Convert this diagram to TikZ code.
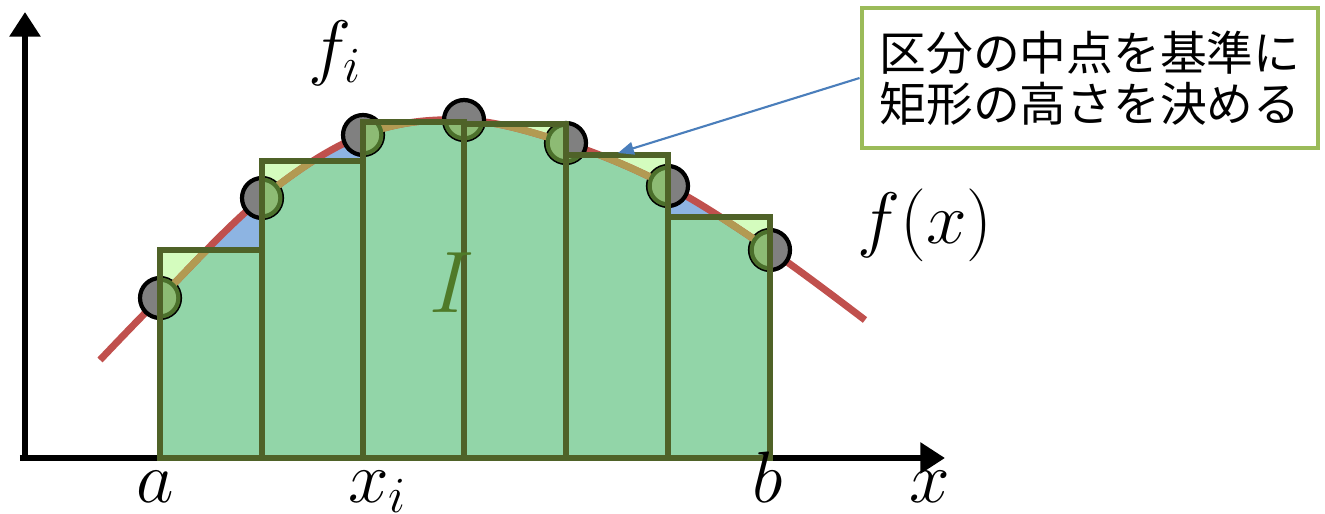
\documentclass[tikz,border=0pt]{standalone}
\usepackage{fontspec}
\newfontfamily\jpfont{Noto Sans CJK JP}
\usetikzlibrary{arrows.meta,positioning}
\definecolor{curvered}{RGB}{192,80,77}
\definecolor{gapblue}{RGB}{141,180,226}
\definecolor{overlime}{RGB}{212,252,190}
\definecolor{barfill}{RGB}{146,213,168}
\definecolor{bardark}{RGB}{79,98,40}
\definecolor{curvetan}{RGB}{178,154,82}
\definecolor{dotgreen}{RGB}{141,187,116}
\definecolor{dotedge}{RGB}{76,112,44}
\definecolor{notegreen}{RGB}{155,187,89}
\definecolor{pointblue}{RGB}{74,126,187}
\definecolor{labelgreen}{RGB}{79,122,40}

% the function and the staircase of midpoint rectangles
\newcommand\fcurve{plot[smooth,tension=.6] coordinates {(1.00,1.53) (1.60,2.15)
  (2.62,3.15) (3.63,3.78) (4.64,3.93) (5.66,3.70) (6.68,3.27) (7.70,2.63)
  (8.65,1.93)}}
\newcommand\stairs{(1.60,.55) -- (1.60,2.63) -- (2.62,2.63) -- (2.62,3.52)
  -- (3.63,3.52) -- (3.63,3.91) -- (4.64,3.91) -- (4.64,3.89) -- (5.66,3.89)
  -- (5.66,3.58) -- (6.68,3.58) -- (6.68,2.96) -- (7.70,2.96) -- (7.70,.55)
  -- cycle}

\begin{document}
\begin{tikzpicture}[x=1cm,y=1cm,
    axis/.style={line width=1.7pt,-{Triangle[length=7pt,width=8.5pt]}},
    sample/.style={circle,draw=black,fill=black!50,line width=1.2pt,
      minimum size=.40cm,inner sep=0pt},
    mathlbl/.style={font=\fontsize{21}{24}\selectfont},
    ticklbl/.style={mathlbl,anchor=base,inner sep=0pt},
    note/.style={draw=notegreen,line width=1.4pt,fill=white,align=left,
      minimum width=4.56cm,minimum height=1.40cm,inner sep=4pt,
      font=\jpfont\fontsize{13.3}{14.6}\selectfont}]
  \useasboundingbox (0,0) rectangle (13.25,5.13);

  % Axes.
  \draw[axis] (.25,.52) -- (.25,5.01);
  \draw[axis] (.20,.55) -- (9.45,.55);

  % Rectangles above the curve, gaps below it, overlap in green.
  \fill[overlime] \stairs;
  \begin{scope}
    \clip (1.60,.4) rectangle (7.70,5);
    \fill[gapblue] \fcurve -- (8.65,.55) -- (1.00,.55) -- cycle;
  \end{scope}
  \begin{scope}
    \clip \stairs;
    \fill[barfill] \fcurve -- (8.65,.55) -- (1.00,.55) -- cycle;
  \end{scope}

  % f(x) and its values at the midpoints.
  \draw[curvered,line width=2pt] \fcurve;
  \foreach \i/\px/\py in {1/1.60/2.15,2/2.62/3.15,3/3.63/3.78,4/4.64/3.93,
      5/5.66/3.70,6/6.68/3.27,7/7.70/2.63}
    \node[sample] (p\i) at (\px,\py) {};
  \begin{scope}
    \clip \stairs;
    \draw[curvetan,line width=2pt] \fcurve;
    \foreach \i in {1,...,7}
      \draw[dotedge,fill=dotgreen,line width=1.2pt] (p\i) circle (.184);
  \end{scope}

  % Rectangle outlines.
  \foreach \xl/\xr/\h in {1.60/2.62/2.63,2.62/3.63/3.52,3.63/4.64/3.91,
      4.64/5.66/3.89,5.66/6.68/3.58,6.68/7.70/2.96}
    \draw[bardark,line width=1.6pt] (\xl,.55) rectangle (\xr,\h);

  % Labels.
  \node[mathlbl] (fi) at (3.35,4.60) {$f_i$};
  \node[mathlbl] (fx) at (9.25,2.88) {$f(x)$};
  \node[font=\fontsize{27}{30}\selectfont,text=labelgreen] (area)
    at (4.52,2.30) {$I$};
  \node[ticklbl] (lo) at (1.55,.11) {$a$};
  \node[ticklbl] (xi) at (3.78,.11) {$x_i$};
  \node[ticklbl] (hi) at (7.68,.11) {$b$};
  \node[ticklbl] (xlbl) at (9.30,.11) {$x$};

  % Callout.
  \node[note] (memo) at (10.90,4.35)
    {区分の中点を基準に\\矩形の高さを決める};
  \coordinate (tip) at (6.18,3.60);
  \draw[pointblue,line width=.6pt,-{Triangle[length=4.5pt,width=3.6pt]}]
    (memo.west) -- (tip);
\end{tikzpicture}
\end{document}
